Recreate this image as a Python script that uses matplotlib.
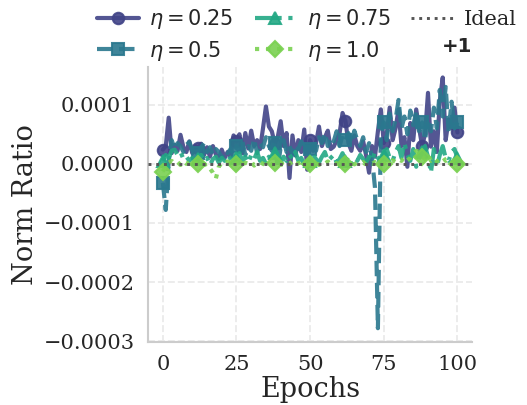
#!/usr/bin/env python3
"""Norm ratio drift over training for several eta settings."""

import matplotlib

matplotlib.use("Agg")
import matplotlib.pyplot as plt
import numpy as np
import seaborn as sns

# Deviation of the norm ratio from 1, in units of 1e-4, one value per epoch.
epochs = np.arange(0, 101)

dev_eta_025 = [
    0.24, 0.30, 0.78, 0.18, 0.32, 0.22, 0.49, 0.28, 0.20, 0.38,
    0.18, 0.30, 0.27, 0.34, 0.15, 0.28, 0.12, 0.30, 0.16, 0.08,
    0.24, 0.10, 0.20, 0.12, 0.48, 0.38, 0.50, 0.18, 0.52, 0.26,
    0.56, 0.30, 0.40, 0.25, 0.60, 0.97, 0.63, 0.55, 0.34, 0.45,
    0.72, 0.30, 0.52, -0.24, 0.48, 0.14, 0.40, 0.20, 0.58, -0.10,
    0.40, 0.22, 0.35, 0.63, 0.30, 0.45, 0.56, 0.25, 0.29, 0.40,
    0.52, 0.86, 0.72, 0.35, 0.22, 0.48, 0.30, 0.22, 0.38, 0.14,
    -0.15, 0.30, 0.12, 0.55, 0.92, 0.35, 0.50, 0.95, 0.40, 0.60,
    0.92, 0.30, 0.45, -0.05, 0.69, 0.40, 0.92, 0.60, 0.30, 0.50,
    1.20, 0.29, 0.55, 0.20, 1.06, 1.46, 0.40, 0.75, 0.60, 0.95,
    0.53,
]
dev_eta_05 = [
    -0.32, -0.78, 0.05, 0.40, 0.25, 0.35, 0.30, 0.20, 0.32, 0.37,
    0.22, 0.30, 0.18, 0.28, 0.35, 0.20, 0.28, 0.15, 0.25, 0.20,
    0.10, 0.22, 0.18, 0.25, 0.12, 0.30, 0.20, 0.38, 0.15, 0.30,
    0.22, 0.42, 0.18, 0.35, 0.28, 0.45, 0.30, 0.22, 0.35, -0.07,
    0.28, 0.40, 0.20, 0.30, 0.15, 0.32, 0.25, 0.38, 0.20, 0.30,
    0.25, 0.40, 0.22, 0.45, 0.35, 0.52, 0.30, 0.45, 0.38, 0.55,
    0.30, 0.48, 0.40, 0.52, 0.35, 0.56, 0.40, 0.30, 0.45, 0.20,
    0.35, 0.10, -0.40, -2.78, 0.50, 0.70, 0.40, 0.85, 0.55, 0.75,
    1.08, 0.60, 0.80, 0.50, 0.90, 0.65, 0.88, 0.55, 0.70, 0.40,
    0.75, 0.55, 0.95, 0.60, 1.25, 0.80, 1.30, 0.55, 1.05, 0.60,
    0.70,
]
dev_eta_075 = [
    0.05, 0.15, 0.10, 0.22, 0.24, 0.15, 0.20, 0.08, 0.12, 0.05,
    0.10, 0.02, 0.08, 0.15, 0.05, 0.10, -0.02, 0.08, 0.12, 0.02,
    0.10, 0.05, 0.15, 0.08, 0.00, 0.10, 0.18, 0.05, 0.12, 0.02,
    0.15, 0.08, 0.20, 0.05, 0.10, 0.00, 0.12, 0.05, 0.18, 0.08,
    0.02, 0.12, 0.05, 0.15, 0.08, 0.20, 0.05, 0.10, -0.02, 0.12,
    0.05, 0.15, 0.08, 0.02, 0.12, 0.20, 0.05, 0.10, 0.15, 0.02,
    0.08, 0.18, 0.05, 0.12, 0.00, 0.10, 0.05, 0.15, 0.08, 0.02,
    0.12, 0.05, 0.20, 0.10, 0.05, 0.15, 0.25, 0.10, 0.05, 0.20,
    0.30, 0.10, 0.35, 0.15, 0.05, 0.25, -0.05, 0.10, 0.20, 0.30,
    0.12, -0.15, 0.25, -0.05, 0.15, 0.30, 0.10, 0.05, 0.20, 0.25,
    0.10,
]
dev_eta_10 = [
    -0.13, -0.05, 0.02, 0.05, 0.00, 0.03, -0.02, 0.04, 0.00, 0.02,
    -0.03, 0.02, 0.00, 0.03, -0.02, 0.00, -0.08, -0.15, -0.25, -0.05,
    0.02, 0.00, 0.04, -0.02, 0.01, 0.00, 0.03, -0.02, 0.02, 0.00,
    0.04, -0.03, 0.01, 0.03, 0.00, -0.02, 0.02, -0.02, 0.01, 0.03,
    0.00, -0.03, 0.02, 0.00, 0.04, -0.02, 0.01, 0.03, 0.00, -0.02,
    0.00, 0.03, 0.01, -0.02, 0.02, 0.00, 0.04, -0.01, 0.02, 0.00,
    0.03, -0.02, 0.00, 0.02, 0.04, -0.01, 0.02, 0.00, 0.03, -0.02,
    0.01, 0.00, 0.03, 0.01, 0.00, 0.00, 0.04, 0.02, 0.06, 0.03,
    0.08, 0.05, 0.12, 0.06, 0.10, 0.18, 0.22, 0.20, 0.12, 0.08,
    0.15, 0.05, 0.10, 0.04, 0.08, 0.12, 0.05, 0.10, 0.06, 0.03,
    0.00,
]

eta_labels = [r"$\eta = 0.25$", r"$\eta = 0.5$", r"$\eta = 0.75$", r"$\eta = 1.0$"]
ideal_ratio = 1.0


def main() -> None:
    sns.set_style("whitegrid", {"grid.linestyle": "--"})
    plt.rcParams["font.family"] = "serif"
    plt.rcParams["font.serif"] = ["DejaVu Serif"]
    plt.rcParams["mathtext.fontset"] = "dejavusans"

    colors = sns.color_palette("viridis", 4)
    styles = [("-", "o"), ("--", "s"), ("-.", "^"), (":", "D")]
    series = [dev_eta_025, dev_eta_05, dev_eta_075, dev_eta_10]
    marker_idx = list(np.linspace(0, 100, 9).round().astype(int))

    fig = plt.figure(figsize=(527 / 150, 405 / 150), dpi=150)
    ax = fig.add_axes([0.281, 0.156, 0.615, 0.679])

    for dev, label, color, (ls, mk) in zip(series, eta_labels, colors, styles):
        ratio = ideal_ratio + np.asarray(dev) * 1e-4
        ax.plot(
            epochs,
            ratio,
            linestyle=ls,
            marker=mk,
            markevery=marker_idx,
            markersize=5.5,
            linewidth=2.0,
            color=color,
            alpha=0.9,
            label=label,
        )

    ax.axhline(ideal_ratio, color="#555555", linestyle=":", linewidth=1.4,
               label="Ideal", zorder=5)

    ax.set_ylim(ideal_ratio - 3.01e-4, ideal_ratio + 1.64e-4)
    ax.set_xlabel("Epochs", fontsize=13, labelpad=1)
    ax.set_ylabel("Norm Ratio", fontsize=13, labelpad=2)
    ax.set_xticks([0, 25, 50, 75, 100])
    ax.tick_params(labelsize=10, colors="#262626", pad=3)
    ax.grid(True, color="#ebebeb", linestyle="--", linewidth=0.9)

    for side in ("top", "right"):
        ax.spines[side].set_visible(False)
    for side in ("left", "bottom"):
        ax.spines[side].set_color("#cccccc")
        ax.spines[side].set_linewidth(1.0)

    # the "+1" offset sits up beside the legend
    ax.yaxis.OFFSETTEXTPAD = 7
    offset = ax.yaxis.get_offset_text()
    offset.set_x(0.907)
    offset.set_fontfamily("DejaVu Sans")
    offset.set_fontweight("bold")
    offset.set_fontsize(9.5)

    ax.legend(
        loc="lower center",
        bbox_to_anchor=(0.49, 0.97),
        ncol=3,
        frameon=False,
        fontsize=10,
        columnspacing=1.0,
        handletextpad=0.5,
        labelspacing=0.35,
        borderaxespad=0.2,
    )

    fig.savefig("out.png", dpi=150)
    plt.close(fig)


if __name__ == "__main__":
    main()
